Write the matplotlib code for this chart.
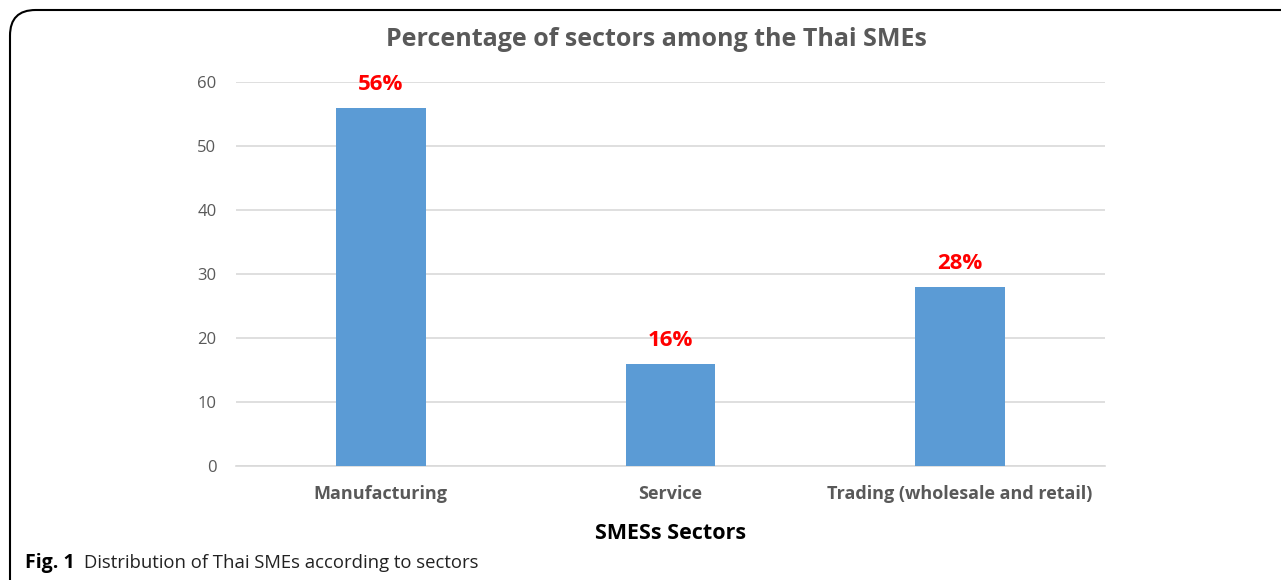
import matplotlib.pyplot as plt
from matplotlib.patches import FancyBboxPatch

plt.rcParams['font.family'] = ['Open Sans', 'DejaVu Sans']

# data
sectors = ["Manufacturing", "Service", "Trading (wholesale and retail)"]
percent = [56, 16, 28]
bar_labels = ["56%", "16%", "28%"]
yticks = [0, 10, 20, 30, 40, 50, 60]

fig = plt.figure(figsize=(12.81, 5.8), dpi=100)
# axes placed in pixel terms: x 236..1105, y 82..466 (from top)
W, H = 1281, 580
ax = fig.add_axes([236 / W, 1 - 466 / H, (1105 - 236) / W, (466 - 82) / H])

x = range(len(sectors))
ax.bar(x, percent, width=0.31, color="#5b9bd5", zorder=3)
for i, v in enumerate(percent):
    ax.text(i, v + 2.0, bar_labels[i], ha="center", va="bottom",
            color="#ff0000", fontsize=16, fontweight="bold")

ax.set_xlim(-0.5, 2.5)
ax.set_ylim(0, 60)
ax.set_yticks(yticks)
ax.grid(axis="y", color="#d9d9d9", linewidth=1.2, zorder=0)
for s in ["top", "right", "left"]:
    ax.spines[s].set_visible(False)
ax.spines["bottom"].set_color("#d9d9d9")
ax.spines["bottom"].set_linewidth(1.2)
ax.tick_params(length=0, colors="#595959")
ax.tick_params(axis="y", labelsize=12, pad=14)
ax.set_xticks(list(x))
ax.set_xticklabels(sectors, fontsize=13, fontweight="bold", color="#595959")
ax.tick_params(axis="x", pad=14)
ax.set_xlabel("SMESs Sectors", fontsize=15.5, fontweight="bold", color="black", labelpad=14)

fig.text(656 / W, 1 - 39 / H, "Percentage of sectors among the Thai SMEs",
         ha="center", va="center", fontsize=18, fontweight="bold", color="#595959")

# caption
fig.text(25 / W, 1 - 563 / H, "Fig. 1", ha="left", va="center",
         fontsize=14, fontweight="bold", color="black")
fig.text(84 / W, 1 - 563 / H, "Distribution of Thai SMEs according to sectors",
         ha="left", va="center", fontsize=13.3, color="#222222")

# rounded frame on the left/top edges
frame = FancyBboxPatch((10 / W, -0.2), 1.2, 1 - 10 / H + 0.2,
                       boxstyle="round,pad=0,rounding_size=0.02",
                       transform=fig.transFigure, fill=False,
                       edgecolor="black", linewidth=1.5, mutation_aspect=W / H)
fig.patches.append(frame)

fig.savefig("out.png", dpi=100)
